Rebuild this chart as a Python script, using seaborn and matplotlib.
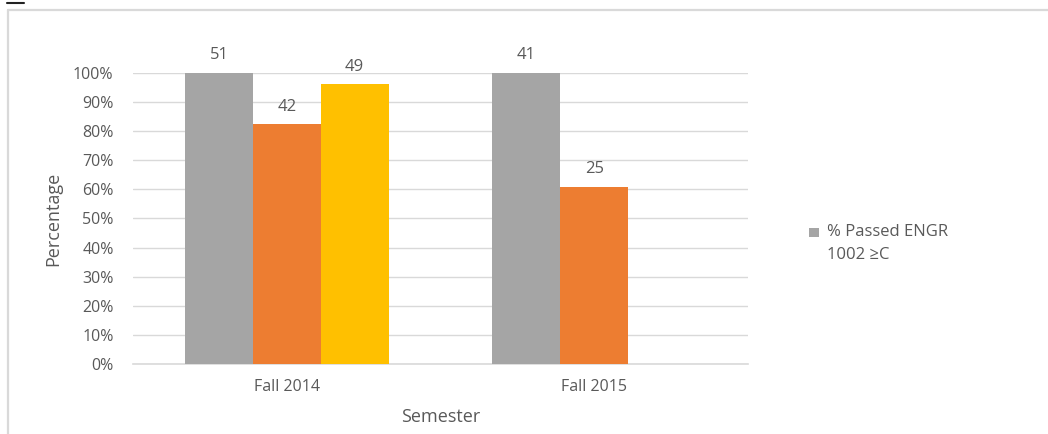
import matplotlib
matplotlib.use("Agg")
import matplotlib.pyplot as plt
import seaborn as sns
import pandas as pd
import numpy as np
from matplotlib.patches import Patch, Rectangle
from matplotlib.lines import Line2D
from matplotlib.legend_handler import HandlerPatch

semesters = ["Fall 2014", "Fall 2015"]
series = ["% Passed ENGR\n1002 ≥C", "Series 2", "Series 3"]
percent_2014 = [1.00, 0.8235, 0.9608]
percent_2015 = [1.00, 0.6098, np.nan]
counts_2014 = ["51", "42", "49"]
counts_2015 = ["41", "25", ""]
colors = ["#a5a5a5", "#ed7d31", "#ffc000"]

rows = []
for sem, vals, cnts in [(semesters[0], percent_2014, counts_2014), (semesters[1], percent_2015, counts_2015)]:
    for s, v, c in zip(series, vals, cnts):
        rows.append({"Semester": sem, "Series": s, "Percentage": v, "Count": c})
df = pd.DataFrame(rows)

sns.set_theme(style="white")
plt.rcParams["font.family"] = ["Open Sans", "DejaVu Sans"]
text_color = "#595959"

fig = plt.figure(figsize=(10.48, 4.34), dpi=100)
ax = fig.add_axes([0.1269, 0.1613, 0.5868, 0.6705])

sns.barplot(data=df, x="Semester", y="Percentage", hue="Series", hue_order=series,
            order=semesters, palette=colors, width=0.662, ax=ax, legend=False,
            saturation=1, errorbar=None, zorder=3, linewidth=0, edgecolor="none")

ax.set_ylim(0, 1)
ticks = np.arange(0, 1.01, 0.1)
ax.set_yticks(ticks)
ax.set_yticklabels([f"{int(round(t*100))}%" for t in ticks])
ax.grid(axis="y", color="#d9d9d9", linewidth=1, zorder=0)
ax.set_axisbelow(True)
for side in ["top", "right", "left"]:
    ax.spines[side].set_visible(False)
ax.spines["bottom"].set_color("#d9d9d9")
ax.spines["bottom"].set_linewidth(1.2)
ax.tick_params(axis="both", length=0, labelsize=11.5, colors=text_color)
ax.tick_params(axis="x", pad=11)
ax.tick_params(axis="y", pad=14)
ax.set_xlabel("Semester", fontsize=13, color=text_color, labelpad=9)
ax.set_ylabel("Percentage", fontsize=13, color=text_color, labelpad=8)

# data labels
for s_idx, container in enumerate(ax.containers):
    for bar in container:
        if bar is None:
            continue
        h = bar.get_height()
        if np.isnan(h):
            continue
        x = bar.get_x() + bar.get_width() / 2
        sem_idx = int(round(x))
        lab = [counts_2014, counts_2015][sem_idx][s_idx]
        ax.annotate(lab, (x, h), xytext=(0, 7), textcoords="offset points",
                    ha="center", va="bottom", fontsize=12, color=text_color,
                    annotation_clip=False)


def top_square(legend, orig_handle, xdescent, ydescent, width, height, fontsize):
    side = 0.55 * fontsize
    return Rectangle((-xdescent, -ydescent + height / 2 + 0.38 * fontsize), side, side)


handles = [Patch(facecolor=colors[0], edgecolor="none")]
leg = fig.legend(handles, [series[0]], loc="upper left", bbox_to_anchor=(0.758, 0.518),
                 frameon=False, fontsize=12, handlelength=0.6, handleheight=0.6,
                 handletextpad=0.45, labelcolor=text_color,
                 handler_map={Patch: HandlerPatch(patch_func=top_square)})
for t in leg.get_texts():
    t.set_linespacing(1.55)

# outer chart border
fig.add_artist(Line2D([8/1048, 1.0], [1-10/434, 1-10/434], color="#d9d9d9", linewidth=1.6, transform=fig.transFigure))
fig.add_artist(Line2D([8/1048, 8/1048], [1-10/434, 0], color="#d9d9d9", linewidth=1.6, transform=fig.transFigure))
fig.add_artist(Line2D([7/1048, 24/1048], [1-2.5/434, 1-2.5/434], color="#222222", linewidth=1.5, transform=fig.transFigure))

fig.savefig("out.png", dpi=100, facecolor="white")
